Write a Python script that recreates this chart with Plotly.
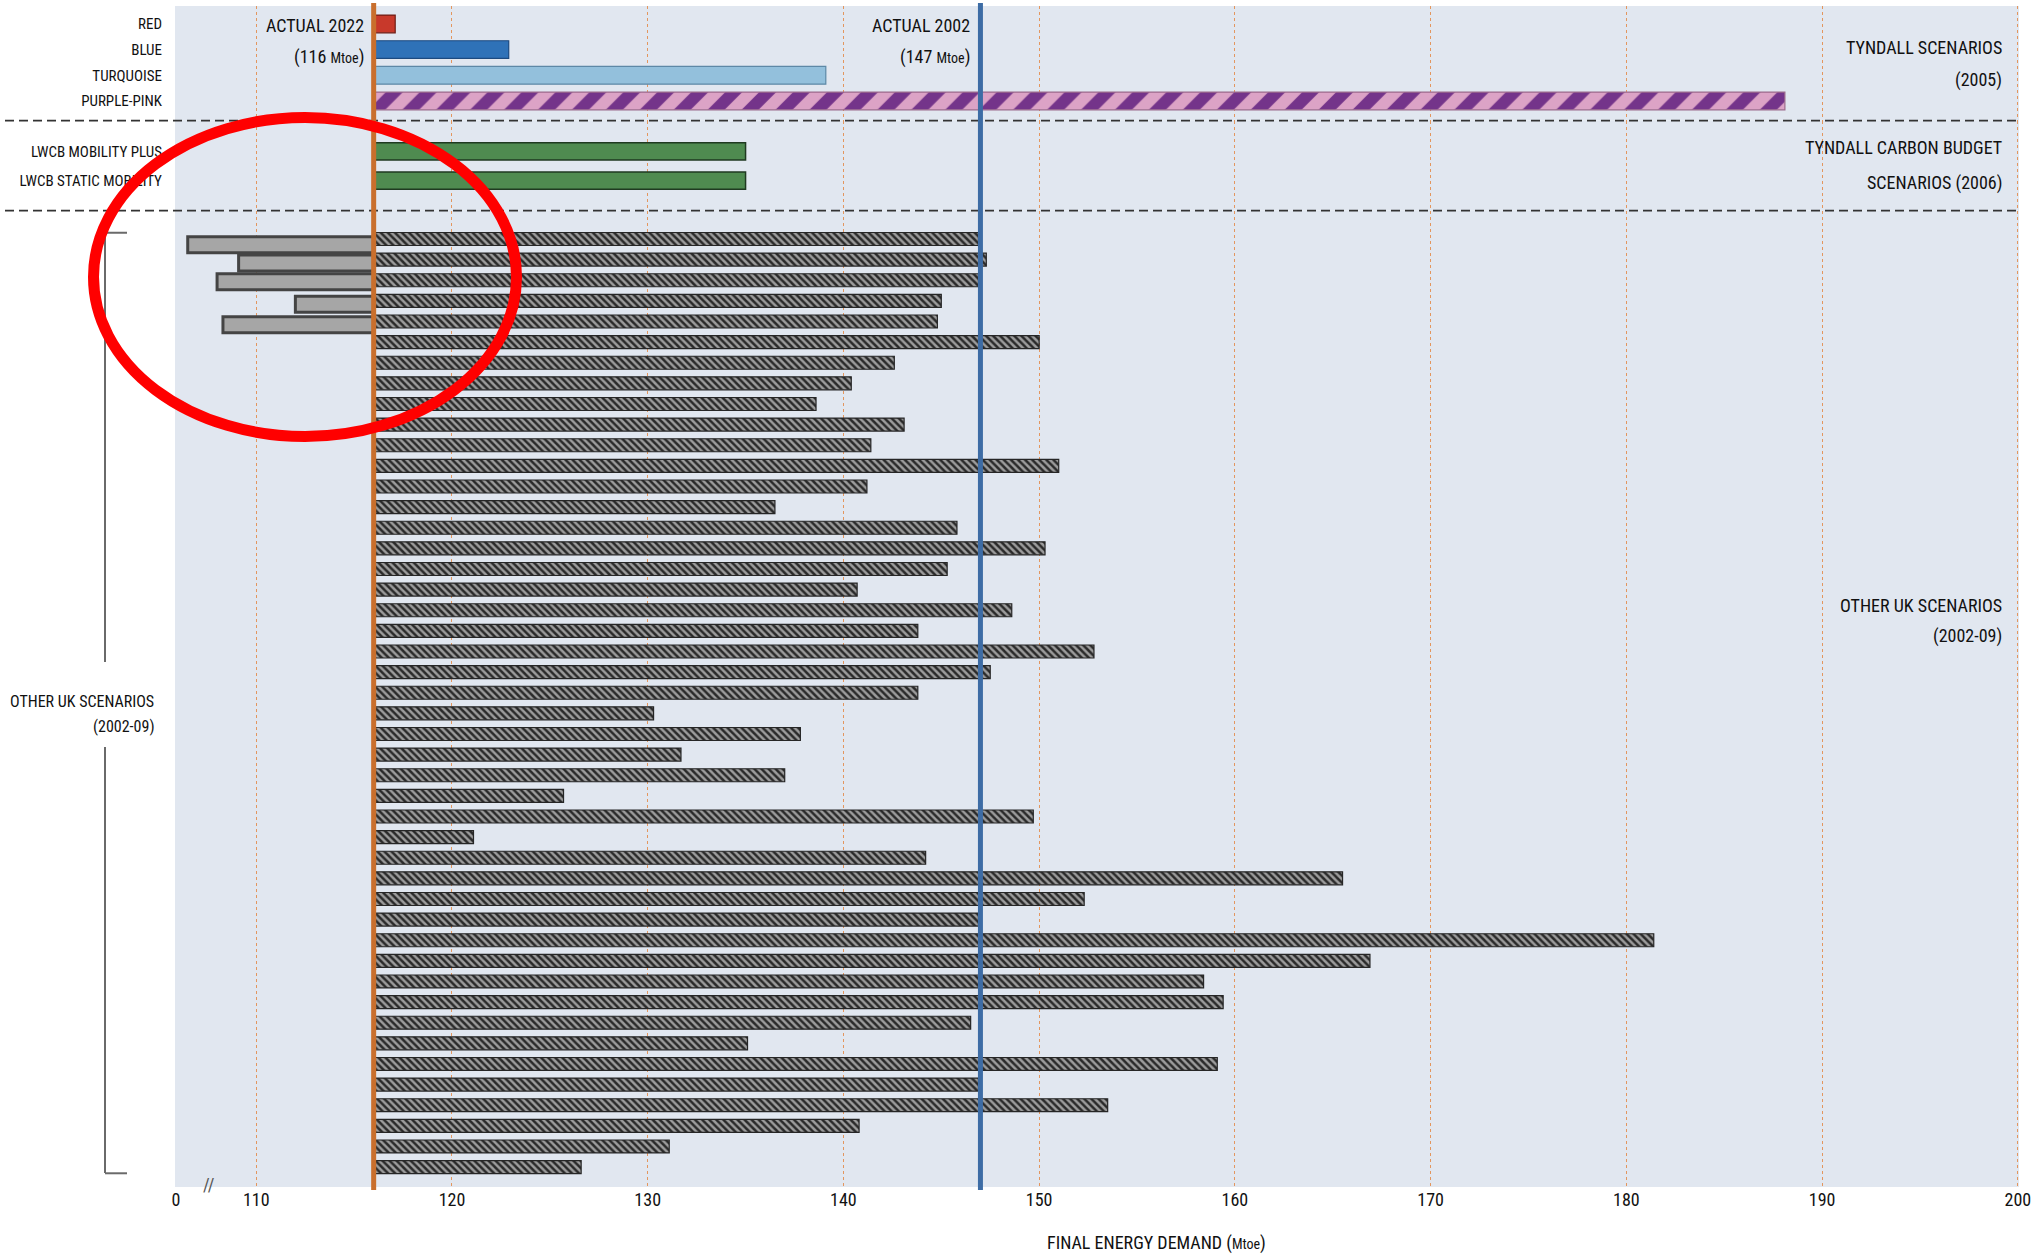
import plotly.graph_objects as go
from plotly.subplots import make_subplots

# ---------------- data ----------------
TYNDALL_2005_NAMES = ["RED", "BLUE", "TURQUOISE", "PURPLE-PINK"]
TYNDALL_2005_VALUES = [117.1, 122.9, 139.1, 188.1]

LWCB_2006_NAMES = ["LWCB MOBILITY PLUS", "LWCB STATIC MOBILITY"]
LWCB_2006_VALUES = [135.0, 135.0]

OTHER_UK_VALUES = [
    146.9, 147.3, 146.9, 145.0, 144.8, 150.0, 142.6, 140.4, 138.6, 143.1,
    141.4, 151.0, 141.2, 136.5, 145.8, 150.3, 145.3, 140.7, 148.6, 143.8,
    152.8, 147.5, 143.8, 130.3, 137.8, 131.7, 137.0, 125.7, 149.7, 121.1,
    144.2, 165.5, 152.3, 146.9, 181.4, 166.9, 158.4, 159.4, 146.5, 135.1,
    159.1, 146.9, 153.5, 140.8, 131.1, 126.6,
]
OTHER_UK_IDS = list(range(1, len(OTHER_UK_VALUES) + 1))

BELOW_2022_IDS = [1, 2, 3, 4, 5]
BELOW_2022_VALUES = [106.5, 109.1, 108.0, 112.0, 108.3]

ACTUAL_2022 = 116
ACTUAL_2002 = 147

X_TICK_VALUES = [105.9, 110, 120, 130, 140, 150, 160, 170, 180, 190, 200]
X_TICK_LABELS = ["0", "110", "120", "130", "140", "150", "160", "170", "180", "190", "200"]

# ---------------- layout geometry (pixels) ----------------
W, H = 2036, 1260
PLOT_L, PLOT_R, PLOT_T, PLOT_B = 175, 2019, 6, 1187
SEP1, SEP2 = 120.7, 210.7


def pxx(px):
    return (px - PLOT_L) / (PLOT_R - PLOT_L)


def pxy(py):
    return 1 - (py - PLOT_T) / (PLOT_B - PLOT_T)


FONT = ("Roboto Condensed, Open Sans Condensed, Noto Sans Condensed, "
        "DejaVu Sans Condensed, Liberation Sans Narrow, sans-serif")
TXT = "#111111"

fig = make_subplots(rows=3, cols=1, shared_xaxes=True, vertical_spacing=0)

# Tyndall 2005
t_colors = ["#c8392b", "#2f72b8", "#93c0dc", "#dca3c6"]
t_lines = ["#6e1d15", "#1c4a80", "#5d88a6", "#9c6a8c"]
for i, (n, v) in enumerate(zip(TYNDALL_2005_NAMES, TYNDALL_2005_VALUES)):
    marker = dict(color=t_colors[i], line=dict(color=t_lines[i], width=1.2))
    if n == "PURPLE-PINK":
        marker["pattern"] = dict(shape="/", fgcolor="#74348a", bgcolor="#dca3c6",
                                 size=24, solidity=0.5, fillmode="replace")
    fig.add_trace(go.Bar(orientation="h", y=[n], x=[v - ACTUAL_2022], base=ACTUAL_2022,
                         width=0.69, marker=marker, showlegend=False), row=1, col=1)

# Tyndall carbon budget 2006
fig.add_trace(go.Bar(orientation="h", y=LWCB_2006_NAMES,
                     x=[v - ACTUAL_2022 for v in LWCB_2006_VALUES], base=ACTUAL_2022,
                     width=0.59, marker=dict(color="#4f8b50", line=dict(color="#1f3a20", width=1.5)),
                     showlegend=False), row=2, col=1)

# Other UK scenarios
fig.add_trace(go.Bar(orientation="h", y=OTHER_UK_IDS,
                     x=[v - ACTUAL_2022 for v in OTHER_UK_VALUES], base=ACTUAL_2022,
                     width=0.63,
                     marker=dict(color="#8f8f8f",
                                 pattern=dict(shape="\\", fgcolor="#2a2a2a", bgcolor="#9c9c9c",
                                              size=5, solidity=0.5, fillmode="replace"),
                                 line=dict(color="#262626", width=1.2)),
                     showlegend=False), row=3, col=1)

# bars below 2022 level
below_w = 0.78
below_centre_shift = [0.28, 0.16, 0.07, 0.16, 0.16]
fig.add_trace(go.Bar(orientation="h", y=BELOW_2022_IDS,
                     x=[v - ACTUAL_2022 for v in BELOW_2022_VALUES], base=ACTUAL_2022,
                     width=below_w, offset=[s - below_w / 2 for s in below_centre_shift],
                     marker=dict(color="#a6a6a6", line=dict(color="#444444", width=3)),
                     showlegend=False), row=3, col=1)

fig.update_layout(barmode="overlay")

# axes
for r in (1, 2, 3):
    fig.update_xaxes(range=[105.85, 200.06], tickvals=X_TICK_VALUES, ticktext=X_TICK_LABELS,
                     showgrid=True, gridcolor="#e3965e", griddash="dot", gridwidth=1,
                     zeroline=False, showline=False, ticks="", automargin=False,
                     tickfont=dict(family=FONT, size=18, color=TXT), row=r, col=1)

ytf = dict(family=FONT, size=15, color=TXT)
fig.update_layout(
    yaxis=dict(domain=[pxy(SEP1), 1], range=[3.77, -0.70], showgrid=False, zeroline=False,
               ticks="", ticklabelstandoff=12, tickfont=ytf, automargin=False),
    yaxis2=dict(domain=[pxy(SEP2), pxy(SEP1)], range=[2.03, -1.05], showgrid=False, zeroline=False,
                ticks="", ticklabelstandoff=12, tickfont=ytf, automargin=False),
    yaxis3=dict(domain=[0, pxy(SEP2)], range=[46.965, -0.372], showgrid=False, zeroline=False,
                showticklabels=False, ticks="", automargin=False),
)

shapes = []
# separators
for sy in (SEP1, SEP2):
    shapes.append(dict(type="line", xref="paper", yref="paper", x0=pxx(5), x1=1,
                       y0=pxy(sy), y1=pxy(sy), line=dict(color="#333333", width=1.8, dash="9px,5px")))
# actual levels
shapes.append(dict(type="line", xref="x3", yref="paper", x0=ACTUAL_2022, x1=ACTUAL_2022,
                   y0=pxy(1190), y1=pxy(3), line=dict(color="#c96f2d", width=5)))
shapes.append(dict(type="line", xref="x3", yref="paper", x0=ACTUAL_2002, x1=ACTUAL_2002,
                   y0=pxy(1190), y1=pxy(3), line=dict(color="#3d6ca5", width=5)))
# bracket for other UK scenarios
bx, bx2 = pxx(105), pxx(127)
gray = dict(color="#6a6a6a", width=2)
shapes += [
    dict(type="line", xref="paper", yref="y3", x0=bx, x1=bx2, y0=OTHER_UK_IDS[0] - 0.3, y1=OTHER_UK_IDS[0] - 0.3, line=gray),
    dict(type="line", xref="paper", yref="y3", x0=bx, x1=bx2, y0=OTHER_UK_IDS[-1] + 0.3, y1=OTHER_UK_IDS[-1] + 0.3, line=gray),
    dict(type="line", xref="paper", yref="paper", x0=bx, x1=bx, y0=pxy(233), y1=pxy(662), line=gray),
    dict(type="line", xref="paper", yref="paper", x0=bx, x1=bx, y0=pxy(747), y1=pxy(1173), line=gray),
]
# red circle
shapes.append(dict(type="circle", xref="paper", yref="paper", x0=pxx(93.5), x1=pxx(516.5),
                   y0=pxy(436.5), y1=pxy(117.5), line=dict(color="#ff0000", width=11)))
fig.update_layout(shapes=shapes)

ann = []


def label(text, px, py, anchor="right", size=18):
    ann.append(dict(text=text, xref="paper", yref="paper", x=pxx(px), y=pxy(py),
                    xanchor=anchor, yanchor="middle", showarrow=False,
                    font=dict(family=FONT, size=size, color=TXT)))


small = "<span style='font-size:14px'>Mtoe</span>"
label("ACTUAL 2022", 366, 26)
label(f"({ACTUAL_2022} {small})", 366, 57)
label("ACTUAL 2002", 972, 26)
label(f"({ACTUAL_2002} {small})", 972, 57)
label("TYNDALL SCENARIOS", 2004, 47)
label("(2005)", 2004, 80)
label("TYNDALL CARBON BUDGET", 2004, 148)
label("SCENARIOS (2006)", 2004, 183)
label("OTHER UK SCENARIOS", 2004, 605)
label("(2002-09)", 2004, 636)
label("OTHER UK SCENARIOS", 156, 701, size=16)
label("(2002-09)", 156, 726, size=16)
label(f"FINAL ENERGY DEMAND ({small})", 1156, 1243, anchor="center", size=18)
ann.append(dict(text="//", xref="x3", yref="paper", x=107.6, y=pxy(1184), showarrow=False,
                xanchor="center", yanchor="middle", font=dict(family=FONT, size=18, color="#555555")))
fig.update_layout(annotations=ann)

fig.update_layout(
    width=W, height=H,
    margin=dict(l=PLOT_L, r=W - PLOT_R, t=PLOT_T, b=H - PLOT_B, autoexpand=False),
    plot_bgcolor="#e1e7f0", paper_bgcolor="#ffffff",
    showlegend=False,
    font=dict(family=FONT, color=TXT),
)

fig.write_html("out.html", config={"displayModeBar": False},
               post_script="document.body.style.margin='0px';")
